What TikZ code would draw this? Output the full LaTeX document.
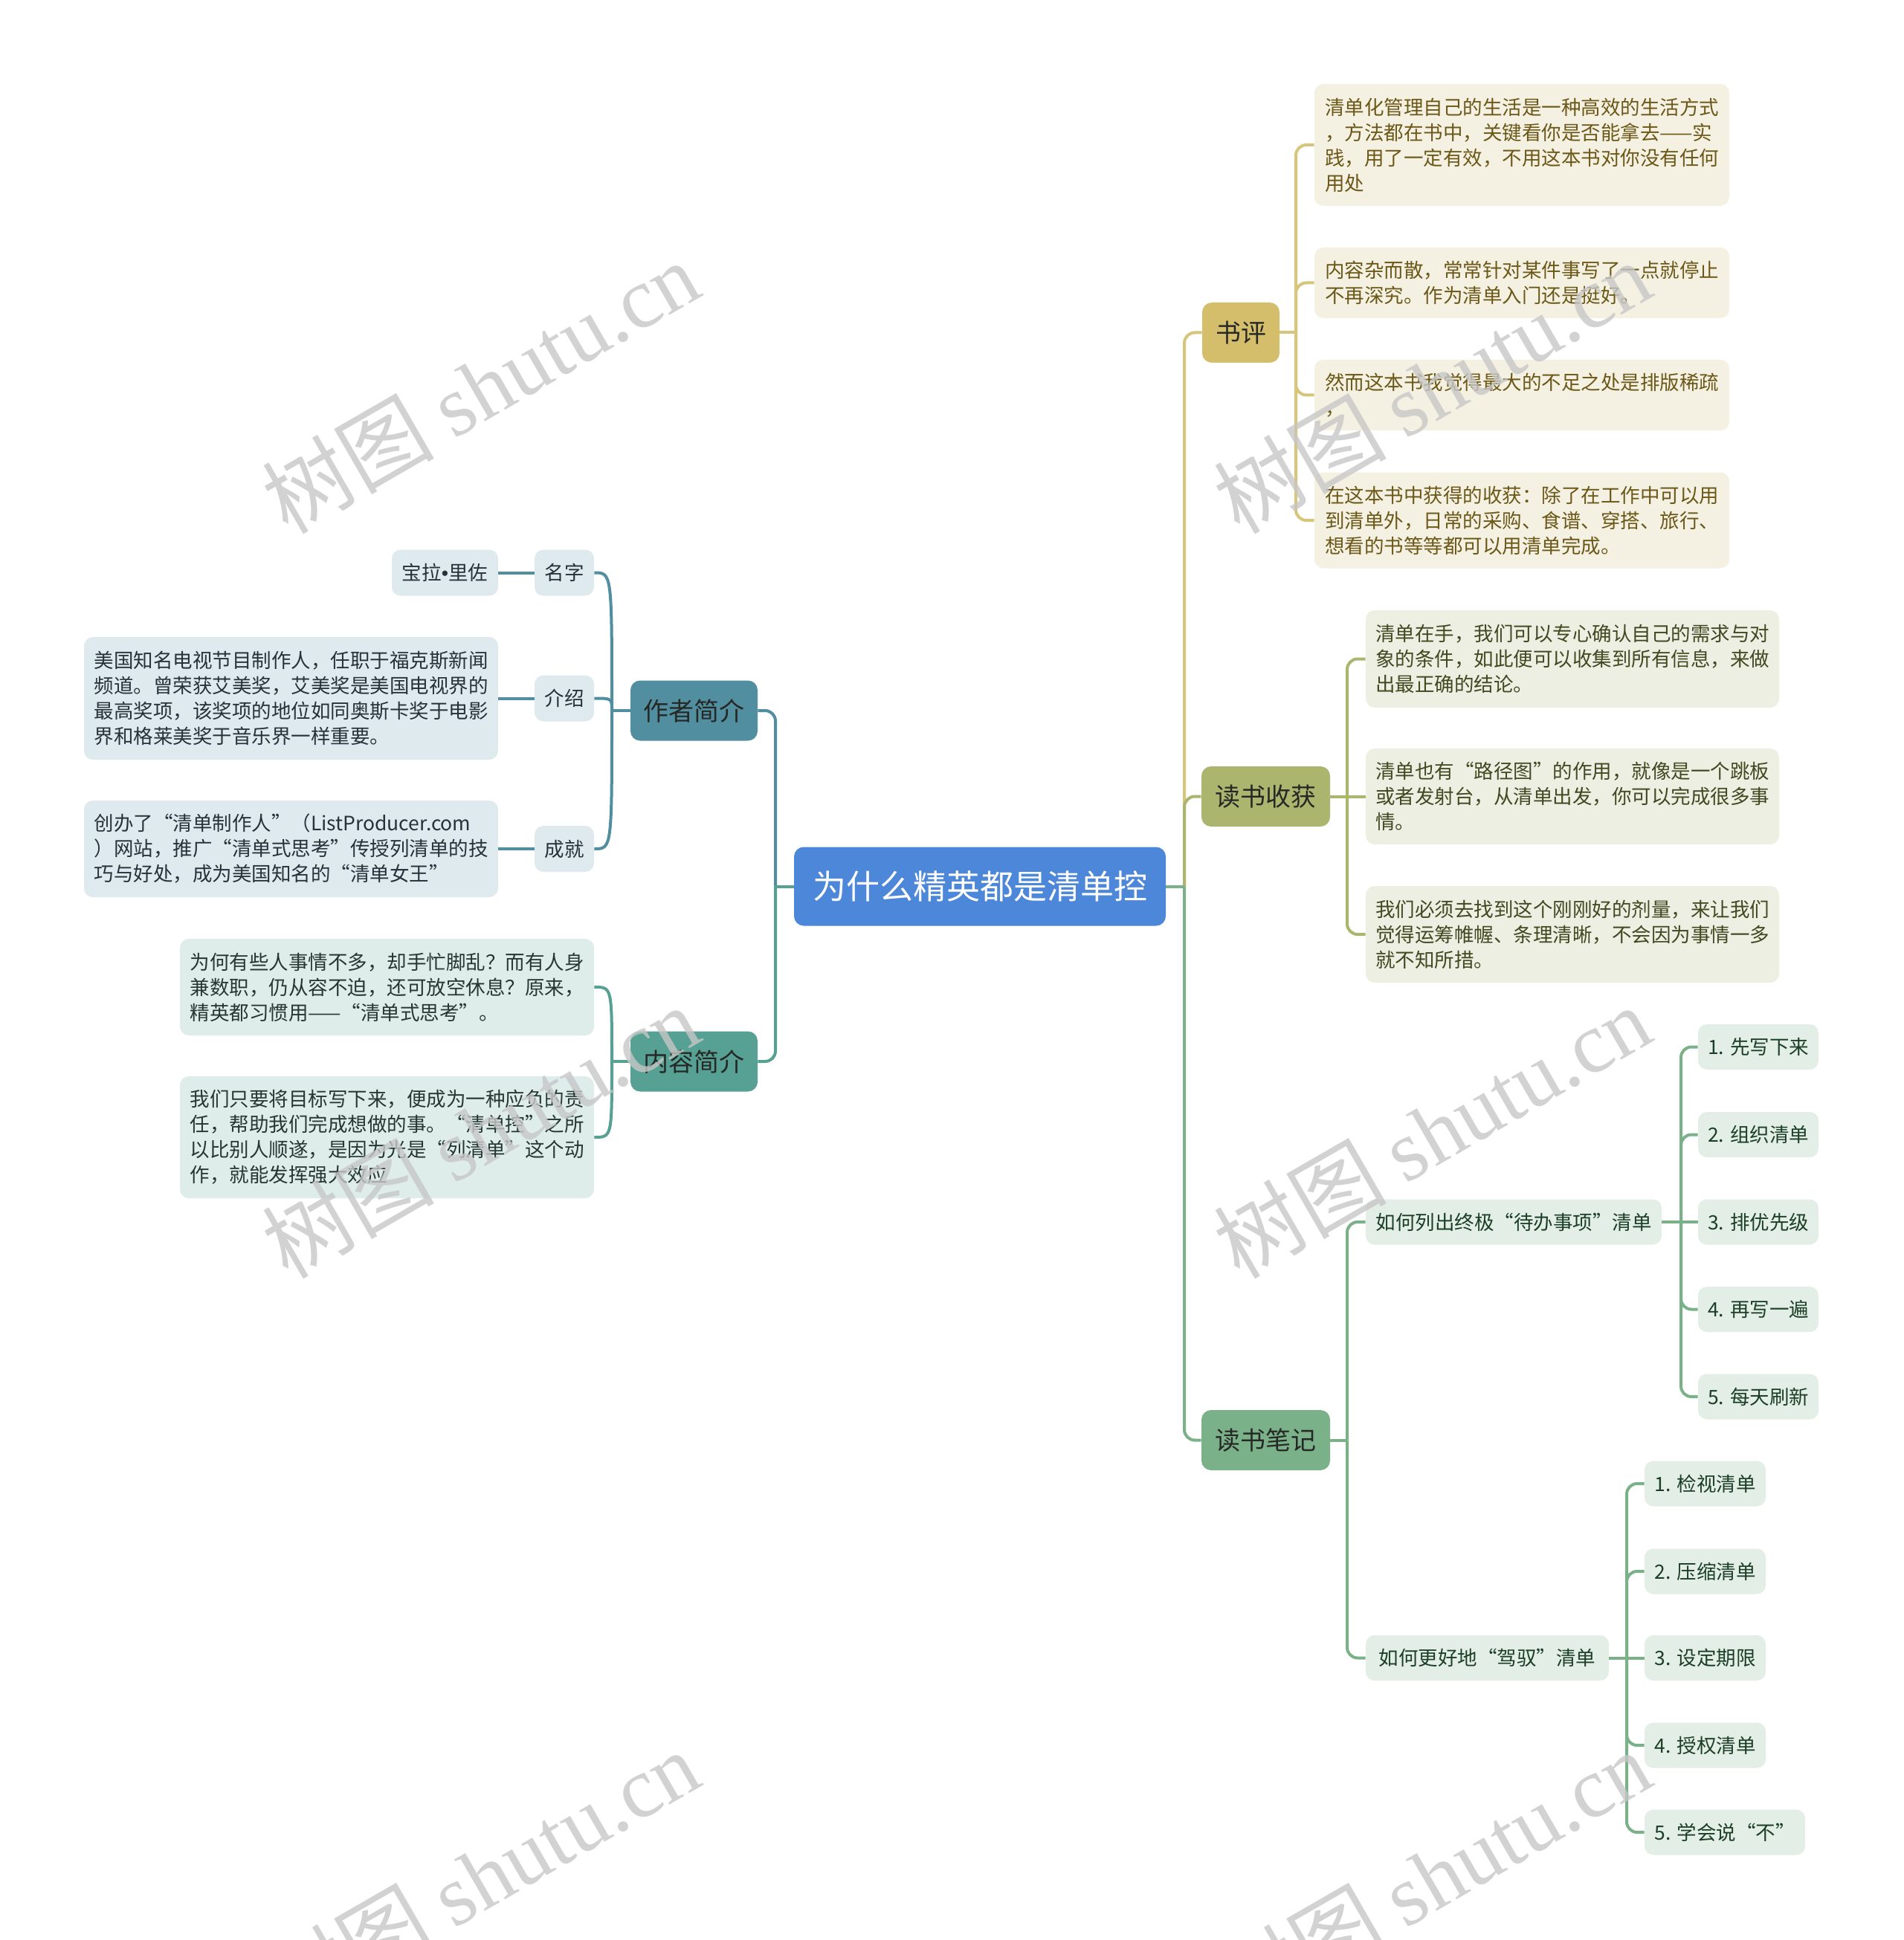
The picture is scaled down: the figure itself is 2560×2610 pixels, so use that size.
\documentclass[tikz,border=0pt]{standalone}
\usepackage{fontspec}
\setmainfont{Noto Sans CJK SC}
\newfontfamily\wmlatin{Liberation Serif}
\newfontfamily\wmcjk{Noto Sans CJK SC}
\newfontfamily\dotfont{Liberation Sans}
\definecolor{rootc}{RGB}{77,135,217}
\definecolor{spc}{RGB}{212,190,108}
\definecolor{spl}{RGB}{214,197,122}
\definecolor{spf}{RGB}{244,241,226}
\definecolor{spt}{RGB}{107,88,24}
\definecolor{shc}{RGB}{172,181,110}
\definecolor{shf}{RGB}{238,239,227}
\definecolor{sht}{RGB}{66,72,32}
\definecolor{bjc}{RGB}{122,177,137}
\definecolor{bjf}{RGB}{226,238,230}
\definecolor{bjt}{RGB}{28,62,38}
\definecolor{zzc}{RGB}{80,142,160}
\definecolor{zzf}{RGB}{222,234,238}
\definecolor{zzt}{RGB}{38,50,55}
\definecolor{nrc}{RGB}{87,161,148}
\definecolor{nrf}{RGB}{222,236,234}
\definecolor{nrt}{RGB}{38,55,50}
\definecolor{lonet}{RGB}{38,40,38}
\begin{document}
\begin{tikzpicture}[x=0.5pt,y=-0.5pt,
  rootbox/.style={rounded corners=6.5pt, fill=rootc, text=white, inner sep=0pt,
    font=\fontsize{22.5}{27}\selectfont},
  lone/.style={rounded corners=6.5pt, inner sep=0pt, text=lonet, minimum height=40.5pt,
    font=\fontsize{17}{20}\selectfont},
  leaf/.style={rounded corners=6pt, inner sep=0pt, align=left,
    font=\fontsize{13.25}{17}\selectfont},
  link/.style={line width=2pt, rounded corners=7pt},
  curv/.style={line width=2pt},
  wm/.style={rotate=30, text=black!22, opacity=0.8, inner sep=0pt,
    font=\fontsize{58}{60}\selectfont}]
\fill[white] (0,0) rectangle (2560,2610);
\useasboundingbox (0,0) rectangle (2560,2610);

% root
\node[rootbox, minimum width=250pt, minimum height=53pt] (root) at (1318,1192.5) {为什么精英都是清单控};

% level 1
\node[lone, fill=spc, minimum width=52pt] (sp) at (1669,447.5) {书评};
\node[lone, fill=shc, minimum width=86.5pt] (sh) at (1702.5,1071.5) {读书收获};
\node[lone, fill=bjc, minimum width=86.5pt] (bj) at (1702.5,1937.5) {读书笔记};
\node[lone, fill=zzc, minimum width=85.5pt] (zz) at (933.5,956) {作者简介};
\node[lone, fill=nrc, minimum width=85.5pt] (nr) at (933.5,1428) {内容简介};

% 书评 leaves
\begin{scope}[every node/.append style={leaf, fill=spf, text=spt, minimum width=279pt}]
\node[minimum height=82pt] (sp1) at (2047,195) {清单化管理自己的生活是一种高效的生活方式\\，方法都在书中，关键看你是否能拿去——实\\践，用了一定有效，不用这本书对你没有任何\\用处};
\node[minimum height=47.5pt] (sp2) at (2047,380.5) {内容杂而散，常常针对某件事写了一点就停止\\不再深究。作为清单入门还是挺好。};
\node[minimum height=47.5pt] (sp3) at (2047,531.5) {然而这本书我觉得最大的不足之处是排版稀疏\\，};
\node[minimum height=64.5pt] (sp4) at (2047,700) {在这本书中获得的收获：除了在工作中可以用\\到清单外，日常的采购、食谱、穿搭、旅行、\\想看的书等等都可以用清单完成。};
\end{scope}

% 读书收获 leaves
\begin{scope}[every node/.append style={leaf, fill=shf, text=sht, minimum width=278pt}]
\node[minimum height=65.5pt] (sh1) at (2115,886.5) {清单在手，我们可以专心确认自己的需求与对\\象的条件，如此便可以收集到所有信息，来做\\出最正确的结论。};
\node[minimum height=64.5pt] (sh2) at (2115,1071.5) {清单也有“路径图”的作用，就像是一个跳板\\或者发射台，从清单出发，你可以完成很多事\\情。};
\node[minimum height=65pt] (sh3) at (2115,1257) {我们必须去找到这个刚刚好的剂量，来让我们\\觉得运筹帷幄、条理清晰，不会因为事情一多\\就不知所措。};
\end{scope}

% 读书笔记 subtree
\begin{scope}[every node/.append style={leaf, fill=bjf, text=bjt, minimum height=30.5pt}]
\node[minimum width=199pt] (bj1) at (2036,1644) {如何列出终极“待办事项”清单};
\node[minimum width=163.5pt] (bj2) at (2000.5,2230.5) {如何更好地“驾驭”清单};
\node[minimum width=81pt] (bj11) at (2365,1408.5) {1. 先写下来};
\node[minimum width=81pt] (bj12) at (2365,1526.5) {2. 组织清单};
\node[minimum width=81pt] (bj13) at (2365,1644) {3. 排优先级};
\node[minimum width=81pt] (bj14) at (2365,1761.5) {4. 再写一遍};
\node[minimum width=81pt] (bj15) at (2365,1879) {5. 每天刷新};
\node[minimum width=81.5pt] (bj21) at (2293.5,1996) {1. 检视清单};
\node[minimum width=81.5pt] (bj22) at (2293.5,2114) {2. 压缩清单};
\node[minimum width=81.5pt] (bj23) at (2293.5,2230.5) {3. 设定期限};
\node[minimum width=81.5pt] (bj24) at (2293.5,2348) {4. 授权清单};
\node[minimum width=108pt] (bj25) at (2320,2465) {5. 学会说“不”};
\end{scope}

% 作者简介 subtree
\begin{scope}[every node/.append style={leaf, fill=zzf, text=zzt}]
\node[minimum width=40pt, minimum height=31pt] (zz1) at (759,770.5) {名字};
\node[minimum width=40pt, minimum height=31pt] (zz2) at (759,939.5) {介绍};
\node[minimum width=40pt, minimum height=31pt] (zz3) at (759,1142) {成就};
\node[minimum width=71.5pt, minimum height=31pt] (zz1a) at (598.5,770.5) {宝拉{\dotfont •}里佐};
\node[minimum width=278.5pt, minimum height=82.5pt] (zz2a) at (391.5,939.5) {美国知名电视节目制作人，任职于福克斯新闻\\频道。曾荣获艾美奖，艾美奖是美国电视界的\\最高奖项，该奖项的地位如同奥斯卡奖于电影\\界和格莱美奖于音乐界一样重要。};
\node[minimum width=278.5pt, minimum height=65pt] (zz3a) at (391.5,1142) {创办了“清单制作人”（ListProducer.com\\）网站，推广“清单式思考”传授列清单的技\\巧与好处，成为美国知名的“清单女王”};
\end{scope}

% 内容简介 subtree
\begin{scope}[every node/.append style={leaf, fill=nrf, text=nrt, minimum width=278.5pt}]
\node[minimum height=65pt] (nr1) at (520.5,1328) {为何有些人事情不多，却手忙脚乱？而有人身\\兼数职，仍从容不迫，还可放空休息？原来，\\精英都习惯用——“清单式思考”。};
\node[minimum height=82pt] (nr2) at (520.5,1530) {我们只要将目标写下来，便成为一种应负的责\\任，帮助我们完成想做的事。“清单控”之所\\以比别人顺遂，是因为光是“列清单”这个动\\作，就能发挥强大效应};
\end{scope}

% junction coordinates
\coordinate (rj) at (1593,1192.5);
\coordinate (lj) at (1043,1192.5);
\coordinate (spj) at (1743,447.5);
\coordinate (shj) at (1812,1071.5);
\coordinate (bjj) at (1812,1937.5);
\coordinate (bj1j) at (2261,1644);
\coordinate (bj2j) at (2188,2230.5);
\coordinate (zzj) at (823,956);
\coordinate (nrj) at (823,1428);

% right trunk
\draw[link, draw=spl] (root.east) -- (rj);
\draw[link, draw=spl] (rj) |- (sp.west);
\draw[link, draw=shc] (root.east) -- (rj);
\draw[link, draw=shc] (rj) |- (sh.west);
\draw[link, draw=bjc] (root.east) -- (rj);
\draw[link, draw=bjc] (rj) |- (bj.west);
% left trunk
\draw[link, draw=zzc] (root.west) -- (lj);
\draw[link, draw=zzc] (lj) |- (zz.east);
\draw[link, draw=nrc] (root.west) -- (lj);
\draw[link, draw=nrc] (lj) |- (nr.east);
% 书评
\draw[link, draw=spl] (sp.east) -- (spj);
\draw[link, draw=spl] (spj) |- (sp1.west);
\draw[link, draw=spl] (spj) |- (sp2.west);
\draw[link, draw=spl] (spj) |- (sp3.west);
\draw[link, draw=spl] (spj) |- (sp4.west);
% 读书收获
\draw[link, draw=shc] (sh.east) -- (shj);
\draw[link, draw=shc] (shj) |- (sh1.west);
\draw[link, draw=shc] (shj) -- (sh2.west);
\draw[link, draw=shc] (shj) |- (sh3.west);
% 读书笔记
\draw[link, draw=bjc] (bj.east) -- (bjj);
\draw[link, draw=bjc] (bjj) |- (bj1.west);
\draw[link, draw=bjc] (bjj) |- (bj2.west);
\draw[link, draw=bjc] (bj1.east) -- (bj1j);
\draw[link, draw=bjc] (bj1j) |- (bj11.west);
\draw[link, draw=bjc] (bj1j) |- (bj12.west);
\draw[link, draw=bjc] (bj1j) -- (bj13.west);
\draw[link, draw=bjc] (bj1j) |- (bj14.west);
\draw[link, draw=bjc] (bj1j) |- (bj15.west);
\draw[link, draw=bjc] (bj2.east) -- (bj2j);
\draw[link, draw=bjc] (bj2j) |- (bj21.west);
\draw[link, draw=bjc] (bj2j) |- (bj22.west);
\draw[link, draw=bjc] (bj2j) -- (bj23.west);
\draw[link, draw=bjc] (bj2j) |- (bj24.west);
\draw[link, draw=bjc] (bj2j) |- (bj25.west);
% 作者简介
\draw[curv, draw=zzc] (zz.west) -- (zzj);
\draw[curv, draw=zzc] (zzj) .. controls (823,770.5) and (823,770.5) .. (zz1.east);
\draw[curv, draw=zzc] (zzj) .. controls (823,939.5) and (823,939.5) .. (zz2.east);
\draw[curv, draw=zzc] (zzj) .. controls (823,1142) and (823,1142) .. (zz3.east);
\draw[curv, draw=zzc] (zz1.west) -- (zz1a.east);
\draw[curv, draw=zzc] (zz2.west) -- (zz2a.east);
\draw[curv, draw=zzc] (zz3.west) -- (zz3a.east);
% 内容简介
\draw[curv, draw=nrc] (nr.west) -- (nrj);
\draw[curv, draw=nrc] (nrj) .. controls (823,1328) and (823,1328) .. (nr1.east);
\draw[curv, draw=nrc] (nrj) .. controls (823,1530) and (823,1530) .. (nr2.east);

% watermarks
\begin{scope}
\clip (0,0) rectangle (2560,2610);
\node[wm] (wm1) at (646,520) {\wmcjk 树图 \wmlatin shutu.cn};
\node[wm] (wm2) at (1926,520) {\wmcjk 树图 \wmlatin shutu.cn};
\node[wm] (wm3) at (646,1522) {\wmcjk 树图 \wmlatin shutu.cn};
\node[wm] (wm4) at (1926,1522) {\wmcjk 树图 \wmlatin shutu.cn};
\node[wm] (wm5) at (646,2524) {\wmcjk 树图 \wmlatin shutu.cn};
\node[wm] (wm6) at (1926,2524) {\wmcjk 树图 \wmlatin shutu.cn};
\end{scope}
\end{tikzpicture}
\end{document}
